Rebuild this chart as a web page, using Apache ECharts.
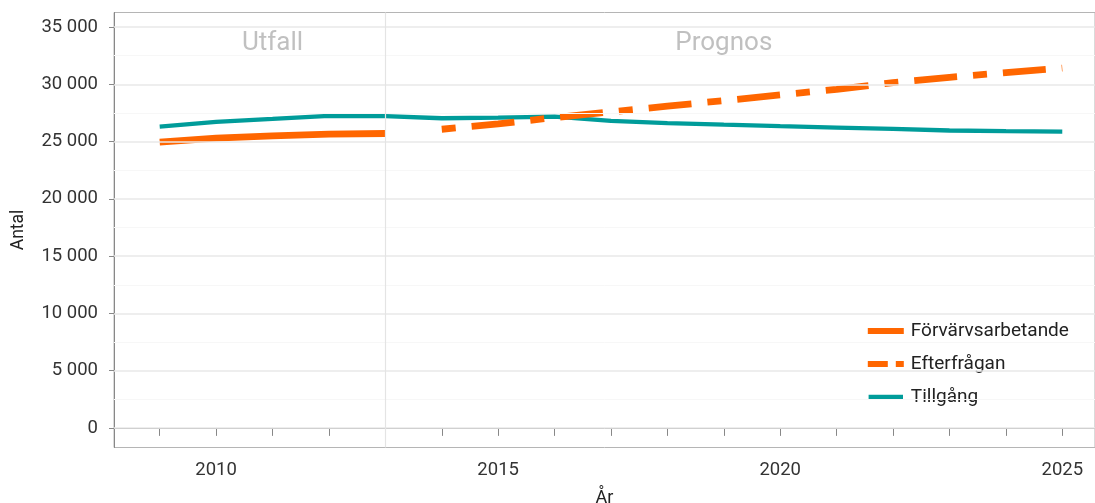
<!DOCTYPE html>
<html>
<head>
<meta charset="utf-8">
<script src="https://cdn.jsdelivr.net/npm/echarts@6/dist/echarts.min.js"></script>
<style>
  html, body { margin: 0; padding: 0; background: #fff; }
  #chart { width: 1095px; height: 503px; }
</style>
</head>
<body>
<div id="chart"></div>
<script>
// Years and values (Antal)
const utfallYears = [2009, 2010, 2011, 2012, 2013];
const prognosYears = [2014, 2015, 2016, 2017, 2018, 2019, 2020, 2021, 2022, 2023, 2024, 2025];
const allYears = utfallYears.concat(prognosYears);

const forvarvsarbetande = [24960, 25300, 25500, 25650, 25710];
const efterfragan = [26080, 26550, 27100, 27600, 28100, 28580, 29080, 29570, 30150, 30620, 31030, 31420];
const tillgang = [26310, 26720, 26980, 27250, 27220, 27040, 27100, 27190, 26820, 26620, 26480, 26350, 26230, 26110, 25970, 25910, 25870];

const yTicks = [0, 5000, 10000, 15000, 20000, 25000, 30000, 35000];
const yMinor = [2500, 7500, 12500, 17500, 22500, 27500, 32500];
const xLabelYears = [2010, 2015, 2020, 2025];
const periodSplit = 2013;
const periodLabels = [[2011, 33600, 'Utfall'], [2019, 33600, 'Prognos']];

const FONT = 'Roboto';
const ORANGE = '#FF6600';
const TEAL = '#009C9A';

// legend glyphs: solid bar and long+short dash
const ICON_SOLID = 'path://M0,0h36v6h-36z';
const ICON_DASH = 'path://M0,0h20v6h-20zM28,0h8v6h-8z';

const pairs = (xs, ys) => xs.map((x, i) => [x, ys[i]]);
const fmt = v => String(v).replace(/\B(?=(\d{3})+(?!\d))/g, ' ');

const chart = echarts.init(document.getElementById('chart'), null, { renderer: 'canvas' });

chart.setOption({
  animation: false,
  backgroundColor: '#fff',
  textStyle: { fontFamily: FONT },
  grid: {
    left: 114, right: 0, top: 12.5, bottom: 55.5,
    outerBoundsMode: 'none', containLabel: false,
    show: true, borderColor: '#b5b5b5', borderWidth: 1, backgroundColor: 'transparent'
  },
  xAxis: {
    type: 'value',
    min: 2008.19, max: 2025.58,
    name: 'År', nameLocation: 'middle', nameGap: 42,
    nameTextStyle: { fontFamily: FONT, fontSize: 18, color: '#222' },
    axisLine: { show: true, lineStyle: { color: '#888', width: 1 } },
    axisTick: { show: true, length: 8, customValues: allYears, lineStyle: { color: '#888' } },
    axisLabel: { customValues: xLabelYears, margin: 13, fontFamily: FONT, fontSize: 18.5, color: '#333', formatter: v => String(v) },
    splitLine: { show: false }
  },
  yAxis: {
    type: 'value',
    min: -1713, max: 36276,
    name: 'Antal', nameLocation: 'middle', nameGap: 86,
    nameTextStyle: { fontFamily: FONT, fontSize: 17.5, color: '#222' },
    axisLine: { show: true, lineStyle: { color: '#888', width: 1 } },
    axisTick: { show: true, length: 5, customValues: yTicks, lineStyle: { color: '#888' } },
    axisLabel: { customValues: yTicks, margin: 16, fontFamily: FONT, fontSize: 18.5, color: '#333', formatter: v => fmt(v) },
    splitLine: { show: false }
  },
  legend: {
    orient: 'vertical',
    left: 862, top: 316.5,
    itemWidth: 36, itemHeight: 6, itemGap: 14,
    textStyle: { fontFamily: FONT, fontSize: 19, color: '#222', padding: [0, 0, 0, 2] },
    data: [
      { name: 'Förvärvsarbetande', icon: ICON_SOLID, itemStyle: { color: ORANGE } },
      { name: 'Efterfrågan', icon: ICON_DASH, itemStyle: { color: ORANGE } },
      // white rim trims the bar to the thinner line weight
      { name: 'Tillgång', icon: 'rect', itemStyle: { color: TEAL, borderColor: '#fff', borderWidth: 1.6 } }
    ]
  },
  series: [
    {
      // gridlines and the period separator
      type: 'line', name: '_grid', data: [], silent: true,
      markLine: {
        silent: true, symbol: 'none', label: { show: false }, animation: false,
        data: [
          ...yMinor.map(v => ({ yAxis: v, lineStyle: { color: '#f7f7f7', width: 1, type: 'solid' } })),
          ...yTicks.map(v => ({ yAxis: v, lineStyle: { color: '#e8e8e8', width: 1.6, type: 'solid' } })),
          { xAxis: periodSplit, lineStyle: { color: '#e4e4e4', width: 1.2, type: 'solid' } }
        ]
      }
    },
    {
      type: 'scatter', name: '_labels', silent: true,
      symbolSize: 0,
      data: periodLabels,
      label: {
        show: true, position: 'inside',
        formatter: p => p.value[2],
        fontFamily: FONT, fontSize: 26, color: '#b0b0b0'
      }
    },
    {
      name: 'Tillgång', type: 'line', showSymbol: false, symbol: 'none',
      data: pairs(allYears, tillgang),
      lineStyle: { color: TEAL, width: 4.3 }, itemStyle: { color: TEAL }, z: 3
    },
    {
      name: 'Förvärvsarbetande', type: 'line', showSymbol: false, symbol: 'none',
      data: pairs(utfallYears, forvarvsarbetande),
      lineStyle: { color: ORANGE, width: 6.8, cap: 'butt', join: 'round' }, itemStyle: { color: ORANGE }, z: 4
    },
    {
      name: 'Efterfrågan', type: 'line', showSymbol: false, symbol: 'none',
      data: pairs(prognosYears, efterfragan),
      lineStyle: { color: ORANGE, width: 6.8, type: [14, 16, 43, 16], cap: 'butt' }, itemStyle: { color: ORANGE }, z: 4
    }
  ]
});
</script>
</body>
</html>
